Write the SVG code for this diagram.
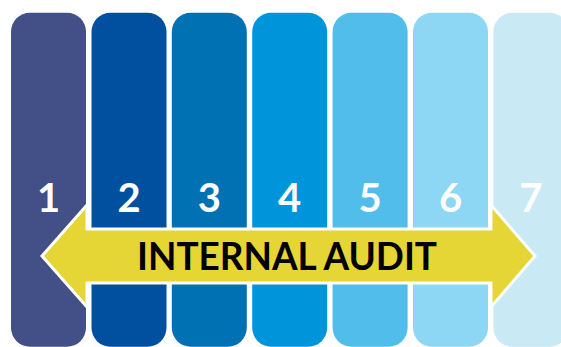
<svg xmlns="http://www.w3.org/2000/svg" width="561" height="347" viewBox="0 0 561 347">
<style>
.bar{stroke:none}
.num{font-family:Lato,"Open Sans","Liberation Sans",sans-serif;font-weight:bold;font-size:40px;fill:#ffffff;text-anchor:middle}
.banner{font-family:Lato,"Open Sans","Liberation Sans",sans-serif;font-weight:bold;font-size:38px;fill:#000000}
</style>
<rect width="561" height="347" fill="#ffffff"/>
<g id="bar1"><rect class="bar" x="11" y="12.7" width="75" height="334" rx="19" fill="#435088"/><text class="num" x="48.5" y="211.5">1</text></g>
<g id="bar2"><rect class="bar" x="91.5" y="12.7" width="75" height="334" rx="19" fill="#0050A0"/><text class="num" x="129" y="211.5">2</text></g>
<g id="bar3"><rect class="bar" x="171.8" y="12.7" width="75" height="334" rx="19" fill="#0071B3"/><text class="num" x="209.3" y="211.5">3</text></g>
<g id="bar4"><rect class="bar" x="252.2" y="12.7" width="75" height="334" rx="19" fill="#0095DA"/><text class="num" x="289.7" y="211.5">4</text></g>
<g id="bar5"><rect class="bar" x="332.6" y="12.7" width="75" height="334" rx="19" fill="#51BDEB"/><text class="num" x="370.1" y="211.5">5</text></g>
<g id="bar6"><rect class="bar" x="413" y="12.7" width="75" height="334" rx="19" fill="#8DD7F5"/><text class="num" x="450.5" y="211.5">6</text></g>
<g id="bar7"><rect class="bar" x="493.4" y="12.7" width="75" height="334" rx="19" fill="#C9E9F5"/><text class="num" x="530.9" y="211.5">7</text></g>
<g id="connectors">
<g id="arrow">
<polygon points="42,256 87,205 87,229 491,229 491,205 535,256 491,307 491,283 87,283 87,307" fill="#E5D535" stroke="#ffffff" stroke-width="3" stroke-linejoin="miter"/>
<text class="banner" x="137" y="270" textLength="300" lengthAdjust="spacingAndGlyphs">INTERNAL AUDIT</text>
</g>
</g>
</svg>
